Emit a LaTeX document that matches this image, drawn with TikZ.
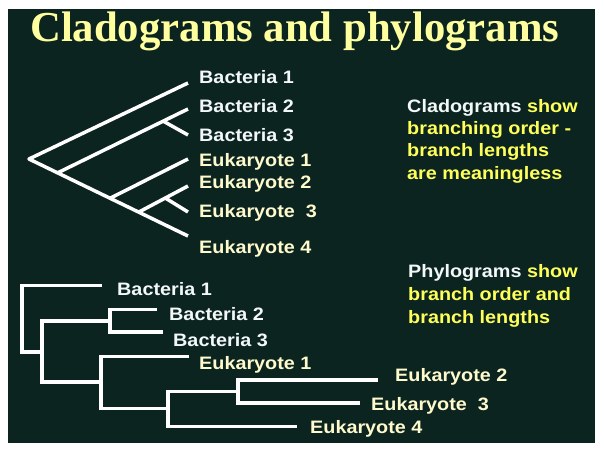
\documentclass[tikz,border=0pt]{standalone}
\usepackage{fontspec}
\setmainfont{Liberation Sans}
\newfontfamily\labfont[FakeStretch=1.1]{Liberation Sans}
\newfontfamily\titlefont{Liberation Serif}
\usetikzlibrary{calc}
\definecolor{bg}{RGB}{12,36,32}
\definecolor{titlecol}{RGB}{255,255,160}
\definecolor{baccol}{RGB}{242,248,248}
\definecolor{eukcol}{RGB}{255,250,205}
\definecolor{notecol}{RGB}{255,255,90}
\begin{document}
\begin{tikzpicture}[x=1pt,y=-1pt,
  branch/.style={draw=white, line width=3.5pt},
  lbl/.style={anchor=base west, inner sep=0pt, font=\labfont\bfseries\fontsize{18}{21}\selectfont},
  bac/.style={lbl, text=baccol},
  euk/.style={lbl, text=eukcol},
  note/.style={lbl, text=notecol}]
\useasboundingbox (0,0) rectangle (604,454);
\fill[white] (0,0) rectangle (604,454);
\fill[bg] (8,9) rectangle (595,443);

\node[anchor=base west, inner sep=0pt, text=titlecol,
  font=\titlefont\bfseries\fontsize{42.7}{50}\selectfont] (title) at (30,41.7) {Cladograms and phylograms};

% ---------- cladogram ----------
\coordinate (cR) at (29,159);
\coordinate (cB1) at (188,83);
\coordinate (cE4) at (188,236);
\coordinate (cB2) at (188,109);
\coordinate (cB3) at (188,135);
\coordinate (cE1) at (188,159);
\coordinate (cE2) at (188,186);
\coordinate (cE3) at (188,212);
\coordinate (c1) at ($(cR)!0.18!(cE4)$);
\coordinate (c2) at ($(c1)!0.81!(cB2)$);
\coordinate (c3) at ($(cR)!0.51!(cE4)$);
\coordinate (c4) at ($(cR)!0.69!(cE4)$);
\coordinate (c5) at ($(c4)!0.54!(cE2)$);
\draw[branch, line join=round] (cB1) -- (cR) -- (cE4);
\draw[branch] (c1) -- (cB2);
\draw[branch] (c2) -- (cB3);
\draw[branch] (c3) -- (cE1);
\draw[branch] (c4) -- (cE2);
\draw[branch] (c5) -- (cE3);

\node[bac] (lcB1) at (199,84) {Bacteria 1};
\node[bac] (lcB2) at (199,113) {Bacteria 2};
\node[bac] (lcB3) at (199,142) {Bacteria 3};
\node[euk] (lcE1) at (199,166.5) {Eukaryote 1};
\node[euk] (lcE2) at (199,188.5) {Eukaryote 2};
\node[euk] (lcE3) at (199,218) {Eukaryote\ \ 3};
\node[euk] (lcE4) at (199,253.5) {Eukaryote 4};

\node[lbl, text=baccol] (n1a) at (407,112.5) {Cladograms \textcolor{notecol}{show}};
\node[note] (n1b) at (407,134.8) {branching order -};
\node[note] (n1c) at (407,157) {branch lengths};
\node[note] (n1d) at (407,179.3) {are meaningless};

% ---------- phylogram ----------
\coordinate (pR) at (22,318.8);
\coordinate (pA) at (42,352);
\coordinate (pB) at (110,321);
\coordinate (pC) at (101,382);
\coordinate (pD) at (168,408.7);
\coordinate (pE) at (238,391.7);
\coordinate (tB1) at (102,285.7);
\coordinate (tB2) at (157,309.5);
\coordinate (tB3) at (163,332);
\coordinate (tE1) at (189,356.5);
\coordinate (tE2) at (378,380);
\coordinate (tE3) at (360,403);
\coordinate (tE4) at (297,426.5);
\draw[branch] (pR) |- (tB1);
\draw[branch] (pR) |- (pA);
\draw[branch] (pA) |- (pB);
\draw[branch] (pA) |- (pC);
\draw[branch] (pB) |- (tB2);
\draw[branch] (pB) |- (tB3);
\draw[branch] (pC) |- (tE1);
\draw[branch] (pC) |- (pD);
\draw[branch] (pD) |- (pE);
\draw[branch] (pD) |- (tE4);
\draw[branch] (pE) |- (tE2);
\draw[branch] (pE) |- (tE3);

\node[bac] (lpB1) at (117,295) {Bacteria 1};
\node[bac] (lpB2) at (169,320.7) {Bacteria 2};
\node[bac] (lpB3) at (173,346) {Bacteria 3};
\node[euk] (lpE1) at (199,369.5) {Eukaryote 1};
\node[euk] (lpE2) at (395,381) {Eukaryote 2};
\node[euk] (lpE3) at (371,410) {Eukaryote\ \ 3};
\node[euk] (lpE4) at (310,433.3) {Eukaryote 4};

\node[lbl, text=baccol] (n2a) at (408,277) {Phylograms \textcolor{notecol}{show}};
\node[note] (n2b) at (408,300) {branch order and};
\node[note] (n2c) at (408,323) {branch lengths};
\end{tikzpicture}
\end{document}
